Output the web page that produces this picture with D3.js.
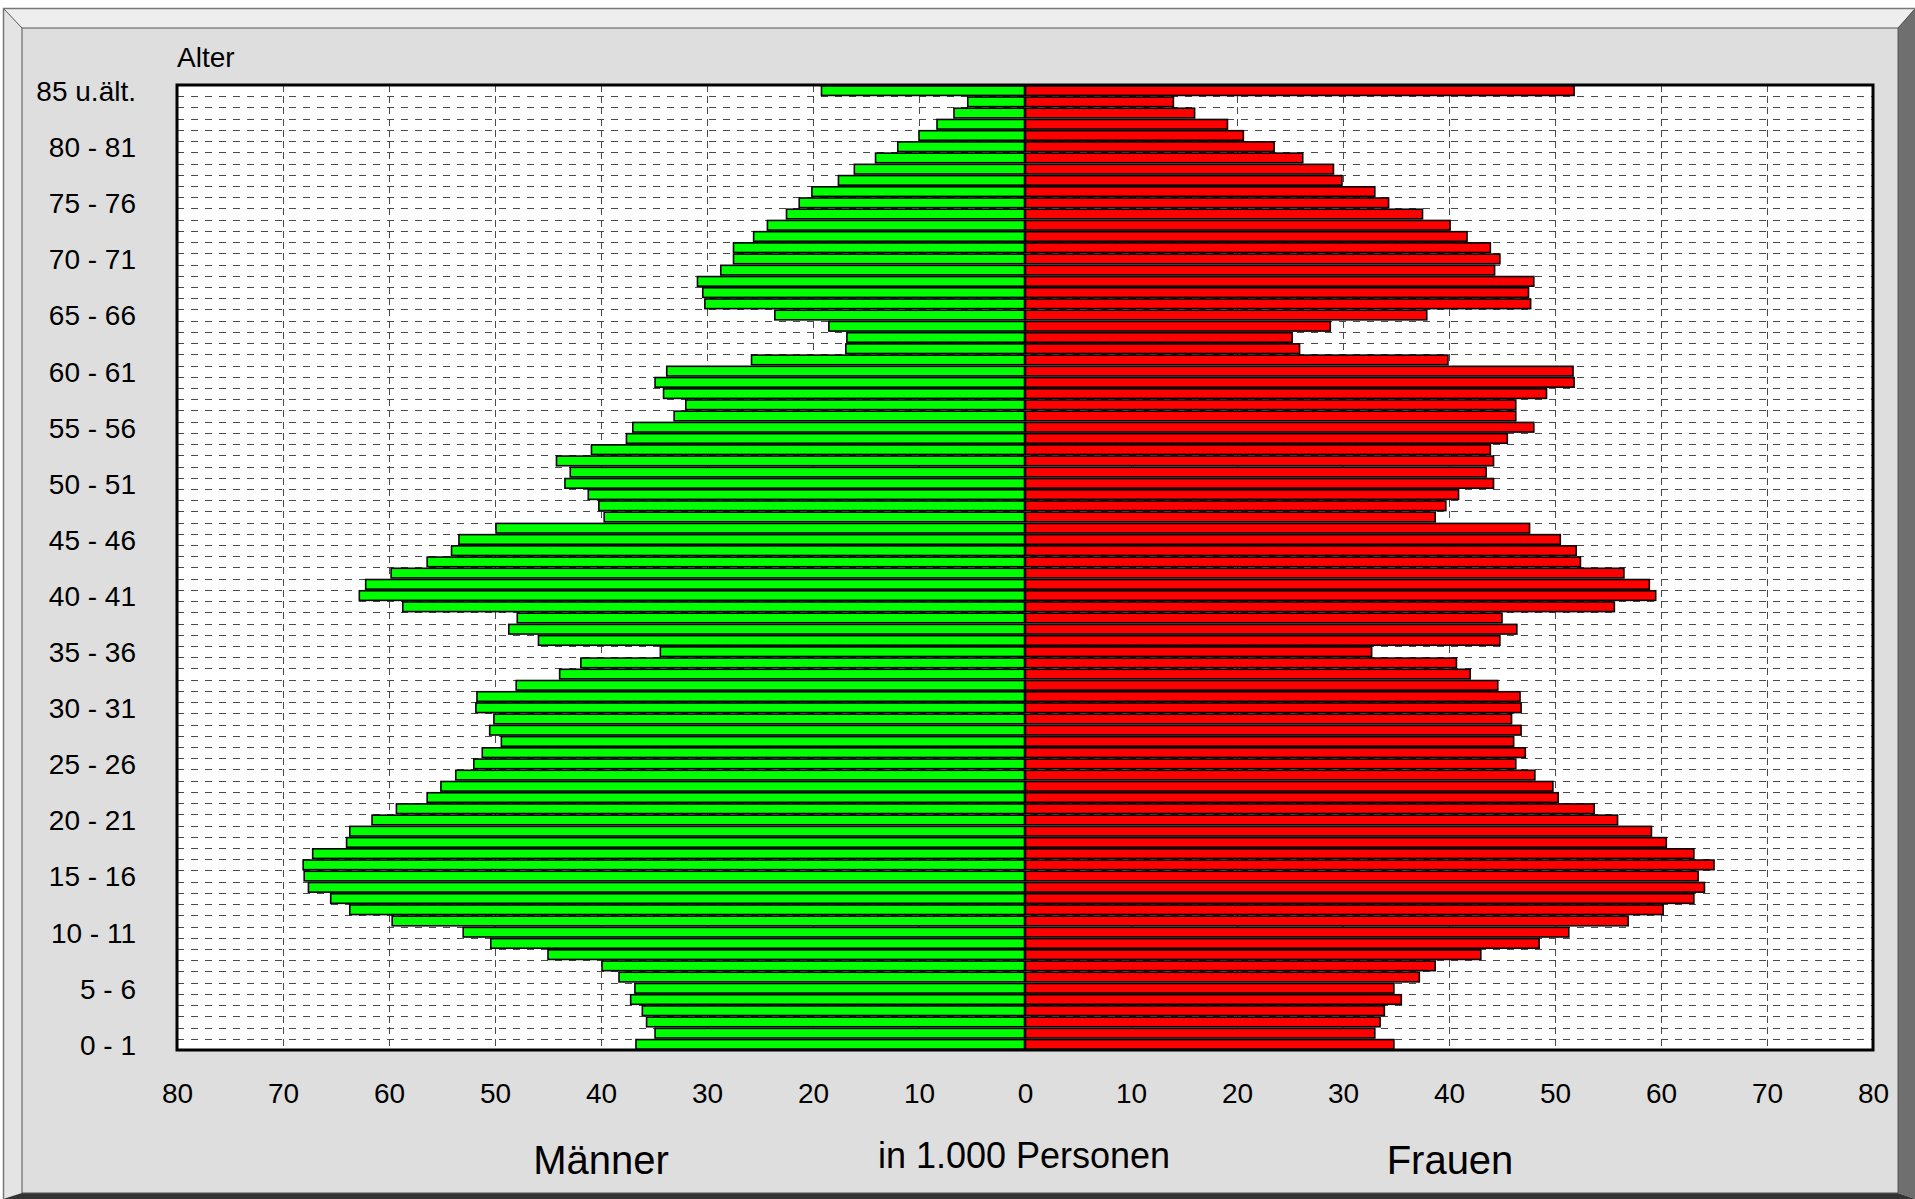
<!DOCTYPE html>
<html><head><meta charset="utf-8">
<script src="https://cdn.jsdelivr.net/npm/d3@7"></script>
<style>
body{margin:0;background:#fff}
svg{display:block;font-family:"Liberation Sans",Arial,Helvetica,sans-serif}
</style>
</head><body>
<svg id="c" width="1915" height="1199"></svg>
<script>
// ages 0 .. 85 (85 = "85 u.ält.")
const ages = d3.range(0, 86);
// Männer, in 1.000 Personen, age 0 .. 85
const men = [36.7,34.9,35.7,36.1,37.2,36.8,38.3,39.9,45.0,50.4,
  53.0,59.7,63.7,65.5,67.6,68.0,68.1,67.2,64.0,63.7,
  61.6,59.3,56.4,55.1,53.7,52.0,51.2,49.4,50.5,50.1,
  51.8,51.7,48.0,43.9,41.9,34.4,45.9,48.7,47.9,58.7,
  62.8,62.2,59.8,56.4,54.1,53.4,49.9,39.7,40.2,41.2,
  43.4,42.9,44.2,40.9,37.6,37.0,33.1,32.0,34.1,34.9,
  33.8,25.8,16.9,16.8,18.5,23.6,30.2,30.4,30.9,28.7,
  27.5,27.5,25.6,24.3,22.5,21.3,20.1,17.6,16.1,14.1,
  12.0,10.0,8.3,6.7,5.4,19.2];
// Frauen, in 1.000 Personen, age 0 .. 85
const women = [34.8,33.0,33.5,33.9,35.5,34.8,37.2,38.7,43.0,48.5,
  51.3,56.9,60.2,63.1,64.1,63.5,65.0,63.1,60.5,59.1,
  55.9,53.7,50.3,49.8,48.1,46.3,47.2,46.1,46.8,45.9,
  46.8,46.7,44.6,42.0,40.7,32.7,44.8,46.4,45.0,55.6,
  59.5,58.9,56.5,52.4,52.0,50.5,47.6,38.7,39.7,40.9,
  44.2,43.5,44.2,43.9,45.5,48.0,46.3,46.3,49.2,51.8,
  51.7,39.9,25.9,25.2,28.8,37.9,47.7,47.5,48.0,44.3,
  44.8,43.9,41.7,40.1,37.5,34.3,33.0,29.9,29.1,26.2,
  23.5,20.6,19.1,16.0,14.0,51.8];
const tickAges = [85,80,75,70,65,60,55,50,45,40,35,30,25,20,15,10,5,0];
const tickLabels = ["85 u.ält.","80 - 81","75 - 76","70 - 71","65 - 66","60 - 61","55 - 56",
  "50 - 51","45 - 46","40 - 41","35 - 36","30 - 31","25 - 26","20 - 21","15 - 16",
  "10 - 11","5 - 6","0 - 1"];
const xTicks = [-80,-70,-60,-50,-40,-30,-20,-10,0,10,20,30,40,50,60,70,80];
const gridX = [-70,-60,-50,-40,-30,-20,-10,10,20,30,40,50,60,70];

const svg = d3.select("#c");

// ---- 3D frame ----
svg.append("rect").attr("x",0).attr("y",0).attr("width",1915).attr("height",1199).attr("fill","#fff");
svg.append("polygon").attr("points","3,8 1915,8 1898,28 22,28").attr("fill","#eeeeee");
svg.append("polygon").attr("points","3,8 22,28 22,1193 3,1199").attr("fill","#e4e4e4");
svg.append("polygon").attr("points","1915,8 1915,1199 1898,1193 1898,28").attr("fill","#6f6f6f");
svg.append("polygon").attr("points","3,1199 22,1193 1898,1193 1915,1199").attr("fill","#333333");
svg.append("line").attr("x1",3).attr("y1",8).attr("x2",22).attr("y2",28).attr("stroke","#555").attr("stroke-width",1);
svg.append("line").attr("x1",1915).attr("y1",9).attr("x2",1898).attr("y2",28).attr("stroke","#555").attr("stroke-width",1);
svg.append("path").attr("d","M3.5,1199 V8.5 H1915").attr("fill","none").attr("stroke","#777").attr("stroke-width",1.5);
svg.append("rect").attr("x",22).attr("y",28).attr("width",1876).attr("height",1165)
  .attr("fill","#dedede").attr("stroke","#555").attr("stroke-width",1);

// ---- scales ----
const x = d3.scaleLinear().domain([-80, 80]).range([177, 1873]);
const y = d3.scaleBand().domain(ages.slice().reverse()).range([85, 1050]).padding(0);
const bw = y.bandwidth();

// plot background
svg.append("rect").attr("x",x(-80)).attr("y",85).attr("width",x(80)-x(-80)).attr("height",1050-85).attr("fill","#fff");

// grid
const grid = svg.append("g").attr("shape-rendering","crispEdges");
grid.selectAll("line.h").data(ages.filter(a => a > 0)).join("line")
  .attr("x1", x(-80)).attr("x2", x(80))
  .attr("y1", d => Math.round(y(d) + bw) + 0.5).attr("y2", d => Math.round(y(d) + bw) + 0.5)
  .attr("stroke", "#4a4a4a").attr("stroke-width", 1).attr("stroke-dasharray", "7,7");
grid.selectAll("line.v").data(gridX).join("line")
  .attr("x1", d => Math.round(x(d)) + 0.5).attr("x2", d => Math.round(x(d)) + 0.5)
  .attr("y1", 85).attr("y2", 1050)
  .attr("stroke", "#4a4a4a").attr("stroke-width", 1).attr("stroke-dasharray", "7,4.22");

// bars
const sw = 1.6;
svg.append("g").selectAll("rect").data(ages).join("rect")
  .attr("x", d => x(-men[d]))
  .attr("y", d => y(d) + sw/2)
  .attr("width", d => x(0) - x(-men[d]) - 0.5)
  .attr("height", bw - sw)
  .attr("fill", "#00ff00").attr("stroke", "#000").attr("stroke-width", sw);
svg.append("g").selectAll("rect").data(ages).join("rect")
  .attr("x", x(0) + 0.5)
  .attr("y", d => y(d) + sw/2)
  .attr("width", d => x(women[d]) - x(0) - 0.5)
  .attr("height", bw - sw)
  .attr("fill", "#ff0000").attr("stroke", "#000").attr("stroke-width", sw);

// plot border
svg.append("rect").attr("x",x(-80)).attr("y",85).attr("width",x(80)-x(-80)).attr("height",1050-85)
  .attr("fill","none").attr("stroke","#000").attr("stroke-width",3);

// axes
const xAxis = svg.append("g").attr("transform","translate(0,1050)")
  .call(d3.axisBottom(x).tickValues(xTicks).tickFormat(d => Math.abs(d)).tickSize(0).tickPadding(33));
const yAxis = svg.append("g").attr("transform","translate(177,0)")
  .call(d3.axisLeft(y).tickValues(tickAges).tickFormat(d => tickLabels[tickAges.indexOf(d)]).tickSize(0).tickPadding(41));
[xAxis, yAxis].forEach(g => {
  g.select(".domain").remove();
  g.selectAll("text").attr("font-size", 28).attr("fill", "#000")
    .attr("font-family", '"Liberation Sans", Arial, sans-serif');
});
yAxis.selectAll("text").attr("dy", "0.37em");

// titles
svg.append("text").attr("x",177).attr("y",67).attr("font-size",28).text("Alter");
svg.append("text").attr("x",601).attr("y",1174).attr("font-size",40).attr("text-anchor","middle").text("Männer");
svg.append("text").attr("x",1450).attr("y",1174).attr("font-size",40).attr("text-anchor","middle").text("Frauen");
svg.append("text").attr("x",1024).attr("y",1168).attr("font-size",36).attr("text-anchor","middle").text("in 1.000 Personen");
</script>
</body></html>
